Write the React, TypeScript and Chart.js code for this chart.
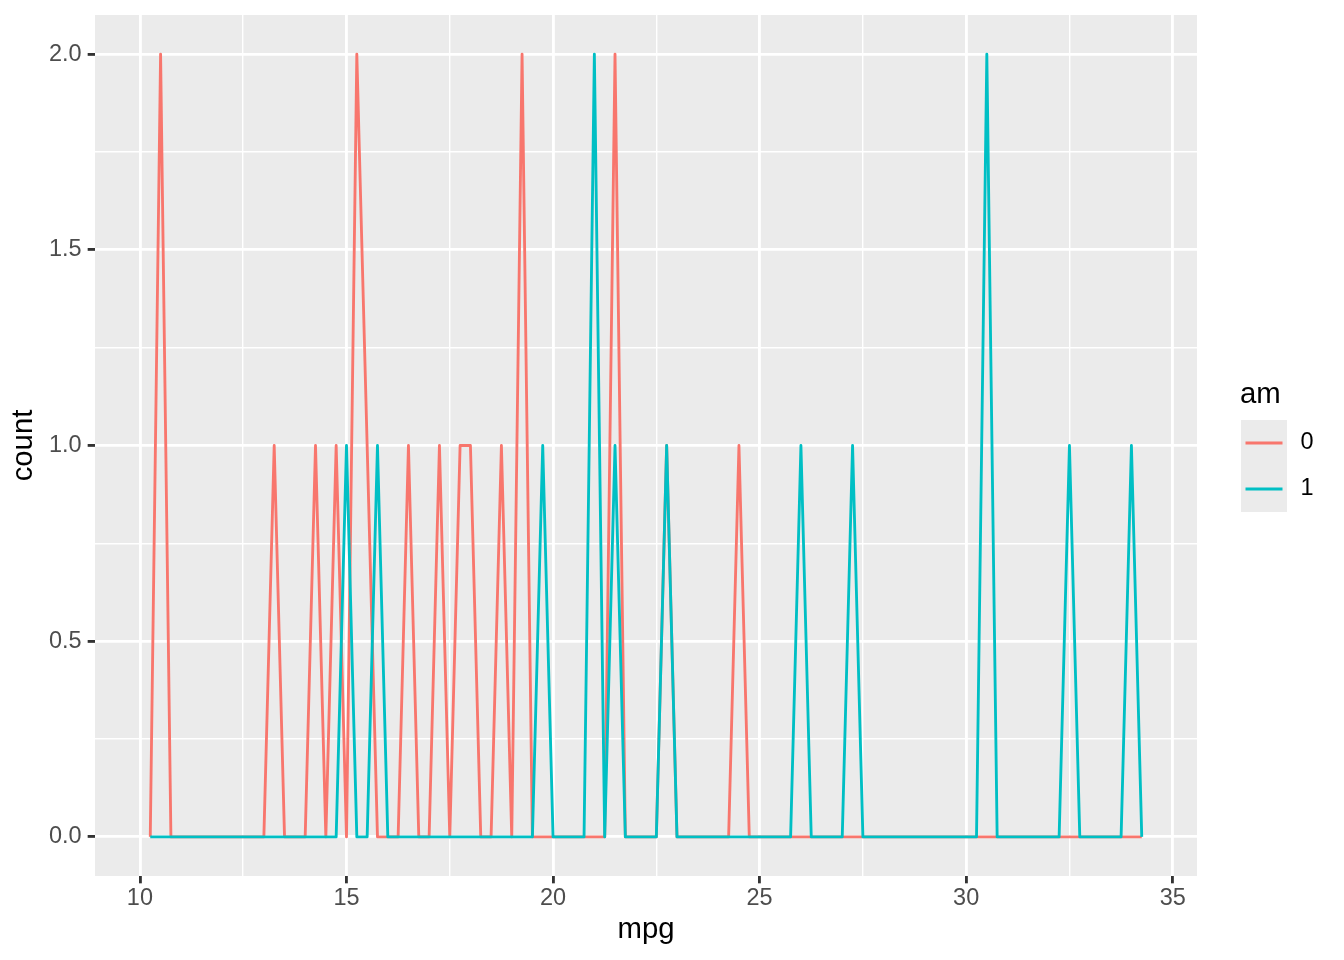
import React, { useEffect, useRef } from "react";
import { Chart, registerables } from "chart.js";

Chart.register(...registerables);

// bin centres (binwidth 0.25) and counts per transmission type
const mpgBins = [
  10.25, 10.5, 10.75, 11, 11.25, 11.5, 11.75, 12,
  12.25, 12.5, 12.75, 13, 13.25, 13.5, 13.75, 14,
  14.25, 14.5, 14.75, 15, 15.25, 15.5, 15.75, 16,
  16.25, 16.5, 16.75, 17, 17.25, 17.5, 17.75, 18,
  18.25, 18.5, 18.75, 19, 19.25, 19.5, 19.75, 20,
  20.25, 20.5, 20.75, 21, 21.25, 21.5, 21.75, 22,
  22.25, 22.5, 22.75, 23, 23.25, 23.5, 23.75, 24,
  24.25, 24.5, 24.75, 25, 25.25, 25.5, 25.75, 26,
  26.25, 26.5, 26.75, 27, 27.25, 27.5, 27.75, 28,
  28.25, 28.5, 28.75, 29, 29.25, 29.5, 29.75, 30,
  30.25, 30.5, 30.75, 31, 31.25, 31.5, 31.75, 32,
  32.25, 32.5, 32.75, 33, 33.25, 33.5, 33.75, 34,
  34.25,
];

const countAm0 = [
  0, 2, 0, 0, 0, 0, 0, 0,
  0, 0, 0, 0, 1, 0, 0, 0,
  1, 0, 1, 0, 2, 1, 0, 0,
  0, 1, 0, 0, 1, 0, 1, 1,
  0, 0, 1, 0, 2, 0, 0, 0,
  0, 0, 0, 0, 0, 2, 0, 0,
  0, 0, 1, 0, 0, 0, 0, 0,
  0, 1, 0, 0, 0, 0, 0, 0,
  0, 0, 0, 0, 0, 0, 0, 0,
  0, 0, 0, 0, 0, 0, 0, 0,
  0, 0, 0, 0, 0, 0, 0, 0,
  0, 0, 0, 0, 0, 0, 0, 0,
  0,
];

const countAm1 = [
  0, 0, 0, 0, 0, 0, 0, 0,
  0, 0, 0, 0, 0, 0, 0, 0,
  0, 0, 0, 1, 0, 0, 1, 0,
  0, 0, 0, 0, 0, 0, 0, 0,
  0, 0, 0, 0, 0, 0, 1, 0,
  0, 0, 0, 2, 0, 1, 0, 0,
  0, 0, 1, 0, 0, 0, 0, 0,
  0, 0, 0, 0, 0, 0, 0, 1,
  0, 0, 0, 0, 1, 0, 0, 0,
  0, 0, 0, 0, 0, 0, 0, 0,
  0, 2, 0, 0, 0, 0, 0, 0,
  0, 1, 0, 0, 0, 0, 0, 1,
  0,
];

const amLevels = ["0", "1"];
const amColors = ["#F8766D", "#00BFC4"];

const xMajor = [10, 15, 20, 25, 30, 35];
const xMinor = [12.5, 17.5, 22.5, 27.5, 32.5];
const yMajor = [0, 0.5, 1, 1.5, 2];
const yMinor = [0.25, 0.75, 1.25, 1.75];

const FONT = "'Liberation Sans', Arial, Helvetica, sans-serif";
const AXIS_TEXT = 23.47;
const TITLE_TEXT = 29.33;
const LINE = 2.84;

const panelBackground = {
  id: "panelBackground",
  beforeDraw(chart: any) {
    const { ctx, chartArea: a } = chart;
    ctx.save();
    ctx.fillStyle = "#EBEBEB";
    ctx.fillRect(a.left, a.top, a.right - a.left, a.bottom - a.top);
    ctx.restore();
  },
};

// ggplot-style legend to the right of the panel
const sideLegend = {
  id: "sideLegend",
  afterDraw(chart: any) {
    const { ctx, chartArea: a } = chart;
    const left = a.right + 44;
    const keyTop = 420;
    const key = 46;

    ctx.save();
    ctx.fillStyle = "#000000";
    ctx.font = `${TITLE_TEXT}px ${FONT}`;
    ctx.textAlign = "left";
    ctx.textBaseline = "alphabetic";
    ctx.fillText("am", left - 1, 403);

    ctx.fillStyle = "#EBEBEB";
    ctx.fillRect(left, keyTop, key, key * amLevels.length);

    amLevels.forEach((lvl, i) => {
      const cy = keyTop + key * i + key / 2;
      ctx.strokeStyle = amColors[i];
      ctx.lineWidth = LINE;
      ctx.lineCap = "butt";
      ctx.beginPath();
      ctx.moveTo(left + 4.5, cy);
      ctx.lineTo(left + key - 4.5, cy);
      ctx.stroke();

      ctx.fillStyle = "#000000";
      ctx.font = `${AXIS_TEXT}px ${FONT}`;
      ctx.textBaseline = "middle";
      ctx.fillText(lvl, left + 59.5, cy);
    });
    ctx.restore();
  },
};

const isIn = (list: number[], v: any) => list.some((m) => Math.abs(m - v) < 1e-9);

const App: React.FC = () => {
  const chartRef = useRef<HTMLCanvasElement>(null);
  const chartInstance = useRef<Chart | null>(null);

  useEffect(() => {
    if (!chartRef.current) return;
    const ctx = chartRef.current.getContext("2d");
    if (!ctx) return;
    if (chartInstance.current) chartInstance.current.destroy();

    chartInstance.current = new Chart(ctx, {
      type: "line",
      data: {
        datasets: [
          {
            label: amLevels[0],
            data: mpgBins.map((x, i) => ({ x, y: countAm0[i] })),
            borderColor: amColors[0],
            borderWidth: LINE,
            borderJoinStyle: "round",
            pointRadius: 0,
            fill: false,
            tension: 0,
            order: 1,
          },
          {
            label: amLevels[1],
            data: mpgBins.map((x, i) => ({ x, y: countAm1[i] })),
            borderColor: amColors[1],
            borderWidth: LINE,
            borderJoinStyle: "round",
            pointRadius: 0,
            fill: false,
            tension: 0,
            order: 0,
          },
        ],
      },
      options: {
        responsive: false,
        animation: false,
        layout: {
          padding: { top: 15, right: 147, bottom: 0, left: 0 },
        },
        plugins: {
          legend: { display: false },
          tooltip: { enabled: false },
        },
        scales: {
          x: {
            type: "linear",
            min: 8.9125,
            max: 35.5875,
            afterBuildTicks: (s: any) => {
              s.ticks = [...xMajor, ...xMinor].sort((p, q) => p - q).map((value) => ({ value }));
            },
            afterFit: (s: any) => {
              s.height = 84;
              s.paddingLeft = 0;
              s.paddingRight = 0;
            },
            border: { display: false },
            grid: {
              color: "#FFFFFF",
              lineWidth: (c: any) => (isIn(xMajor, c.tick?.value) ? LINE : LINE / 2),
              tickColor: (c: any) => (isIn(xMajor, c.tick?.value) ? "#333333" : "rgba(0,0,0,0)"),
              tickWidth: LINE,
              tickLength: 7.33,
            },
            ticks: {
              autoSkip: false,
              maxRotation: 0,
              padding: 1,
              color: "#4D4D4D",
              font: { family: FONT, size: AXIS_TEXT },
              callback: (v: any) => (isIn(xMajor, v) ? String(v) : ""),
            },
            title: {
              display: true,
              text: "mpg",
              color: "#000000",
              font: { family: FONT, size: TITLE_TEXT },
              padding: { top: 0, bottom: 12 },
            },
          },
          y: {
            type: "linear",
            min: -0.1,
            max: 2.1,
            afterBuildTicks: (s: any) => {
              s.ticks = [...yMajor, ...yMinor].sort((p, q) => p - q).map((value) => ({ value }));
            },
            afterFit: (s: any) => {
              s.width = 95;
              s.paddingTop = 0;
              s.paddingBottom = 0;
            },
            border: { display: false },
            grid: {
              color: "#FFFFFF",
              lineWidth: (c: any) => (isIn(yMajor, c.tick?.value) ? LINE : LINE / 2),
              tickColor: (c: any) => (isIn(yMajor, c.tick?.value) ? "#333333" : "rgba(0,0,0,0)"),
              tickWidth: LINE,
              tickLength: 7.33,
            },
            ticks: {
              autoSkip: false,
              padding: 6,
              color: "#4D4D4D",
              font: { family: FONT, size: AXIS_TEXT },
              callback: (v: any) => (isIn(yMajor, v) ? Number(v).toFixed(1) : ""),
            },
            title: {
              display: true,
              text: "count",
              color: "#000000",
              font: { family: FONT, size: TITLE_TEXT },
              padding: { top: 6, bottom: 0 },
            },
          },
        },
      } as any,
      plugins: [panelBackground, sideLegend],
    });

    return () => {
      if (chartInstance.current) {
        chartInstance.current.destroy();
        chartInstance.current = null;
      }
    };
  }, []);

  return (
    <div style={{ position: "absolute", left: 0, top: 0, width: 1344, height: 960, background: "#FFFFFF" }}>
      <canvas ref={chartRef} width={1344} height={960} />
    </div>
  );
};

export default App;
